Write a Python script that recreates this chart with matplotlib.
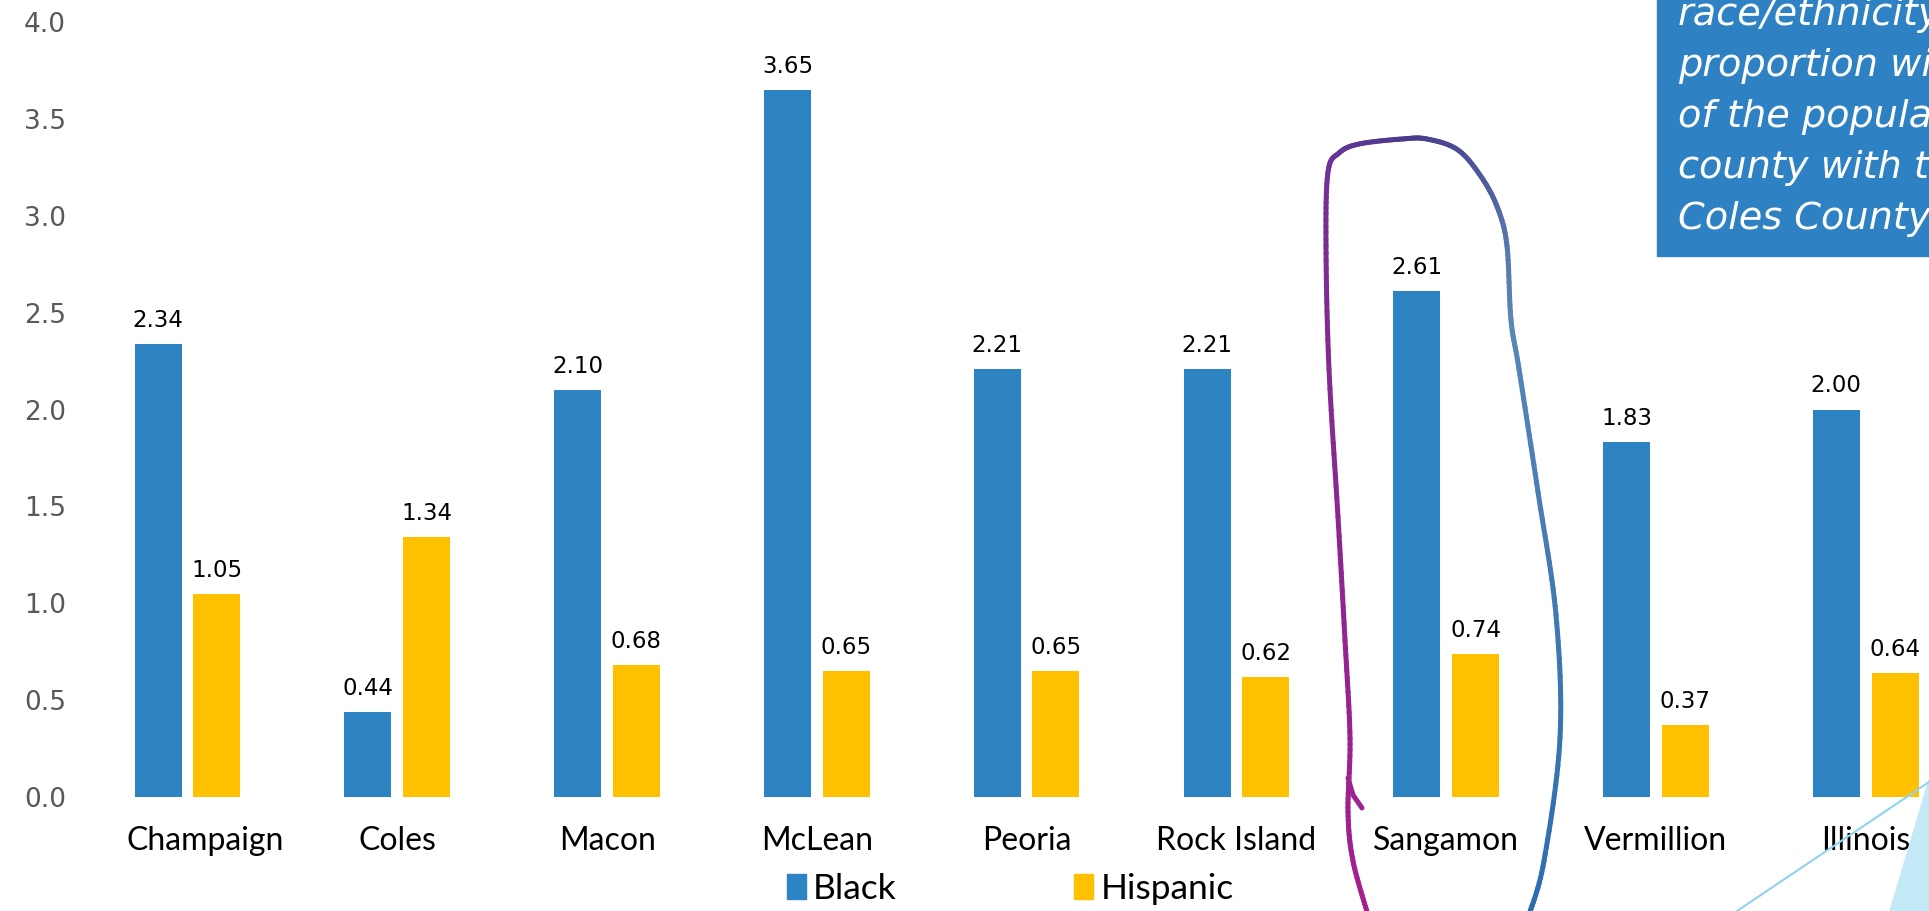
import numpy as np
import matplotlib.pyplot as plt
from matplotlib.collections import LineCollection
from matplotlib.colors import LinearSegmentedColormap
from matplotlib.patches import Patch, Polygon, Rectangle
from matplotlib.transforms import ScaledTranslation

plt.rcParams['font.family'] = ['Lato', 'DejaVu Sans']

counties = ["Champaign", "Coles", "Macon", "McLean", "Peoria",
            "Rock Island", "Sangamon", "Vermillion", "Illinois"]
black = [2.34, 0.44, 2.10, 3.65, 2.21, 2.21, 2.61, 1.83, 2.00]
hispanic = [1.05, 1.34, 0.68, 0.65, 0.65, 0.62, 0.74, 0.37, 0.64]
y_ticks = [0.0, 0.5, 1.0, 1.5, 2.0, 2.5, 3.0, 3.5, 4.0]

note_lines = ["race/ethnicity", "proportion with", "of the population",
              "county with the", "Coles County"]

BLUE = "#2E83C3"
GOLD = "#FFC000"

W, H = 1929, 911
fig = plt.figure(figsize=(W / 100, H / 100), dpi=100)
fig.patch.set_facecolor("white")


def px(x, y):
    # pixel position (origin top-left) -> figure fraction
    return x / W, 1 - y / H


ax = fig.add_axes([82.7 / W, 1 - 797 / H, 1 - 82.7 / W, (797 - 22) / H])
ax.patch.set_alpha(0)

x = np.arange(len(counties))
bw, off = 0.224, 0.14
ax.bar(x - off, black, bw, color=BLUE, label="Black", zorder=2)
ax.bar(x + off, hispanic, bw, color=GOLD, label="Hispanic", zorder=2)

for xs, vals in ((x - off, black), (x + off, hispanic)):
    for xi, v in zip(xs, vals):
        ax.annotate(f"{v:.2f}", (xi, v), xytext=(0, 17), textcoords="offset pixels",
                    ha="center", va="baseline", fontsize=16.5, color="black",
                    family="DejaVu Sans")

ax.set_xlim(-0.5, 8.302)
ax.set_ylim(0, 4)
ax.set_xticks(x, counties)
ax.set_yticks(y_ticks, [f"{t:.1f}" for t in y_ticks])
ax.tick_params(axis="x", length=0, pad=21, labelsize=23, labelcolor="black")
ax.tick_params(axis="y", length=0, pad=12, labelsize=19, labelcolor="#595959")
for lab in ax.get_yticklabels():
    lab.set_family("DejaVu Sans")
# first county label sits a bit right of its bars
first = ax.get_xticklabels()[0]
first.set_transform(first.get_transform() + ScaledTranslation(18 / 100, 0, fig.dpi_scale_trans))
for s in ax.spines.values():
    s.set_visible(False)

handles = [Patch(color=BLUE, label="Black"), Patch(color=GOLD, label="Hispanic")]
fig.legend(handles=handles, loc="center", bbox_to_anchor=(1010 / W, 1 - 889 / H),
           ncol=2, frameon=False, fontsize=25.5, handlelength=0.55, handleheight=0.7,
           handletextpad=0.2, columnspacing=5.0, borderpad=0)

# note box in the top right corner
fig.add_artist(Rectangle(px(1657, 256), 400 / W, 256 / H, transform=fig.transFigure,
                         color="#2E81C2", zorder=3))
for line, base in zip(note_lines, [25, 76, 127, 178, 229]):
    fig.text(*px(1678, base), line, color="white", fontsize=27.5, style="italic",
             family="DejaVu Sans", va="baseline", ha="left", zorder=4)

# decorative shapes bottom right
fig.add_artist(Polygon([px(1890, 911), px(1929, 780), px(1929, 911)], closed=True,
                       transform=fig.transFigure, color="#C4E9F7", zorder=1))
fig.add_artist(plt.Line2D([1737 / W, 1929 / W], [1 - 911 / H, 1 - 782 / H],
                          transform=fig.transFigure, color="#8FD3F0", lw=1.5, zorder=1))

# hand-drawn loop around Sangamon, smoothed with a Catmull-Rom pass
loop = np.array([(1368, 915), (1353, 861), (1348, 812), (1350, 738), (1345, 640),
                 (1338, 517), (1329, 369), (1326, 246), (1328, 172), (1339, 153),
                 (1359, 144), (1402, 139), (1427, 139), (1458, 150), (1482, 178),
                 (1498, 209), (1507, 246), (1511, 320), (1519, 369), (1538, 492),
                 (1556, 615), (1560, 738), (1544, 861), (1529, 915)], dtype=float)
ctrl = np.vstack([loop[0], loop, loop[-1]])
curve = []
for i in range(1, len(ctrl) - 2):
    p0, p1, p2, p3 = ctrl[i - 1], ctrl[i], ctrl[i + 1], ctrl[i + 2]
    for t in np.linspace(0, 1, 14, endpoint=False):
        curve.append(0.5 * (2 * p1 + (-p0 + p2) * t + (2 * p0 - 5 * p1 + 4 * p2 - p3) * t ** 2
                            + (-p0 + 3 * p1 - 3 * p2 + p3) * t ** 3))
curve.append(loop[-1])
pts = np.array([px(cx, cy) for cx, cy in curve])
segs = np.stack([pts[:-1], pts[1:]], axis=1)
cmap = LinearSegmentedColormap.from_list(
    "loop", ["#A3208F", "#9A2290", "#86298F", "#6A3499", "#4A3A8C", "#4F5E9C",
             "#5C88B8", "#3F78B3", "#2D6BAF"])
lc = LineCollection(segs, cmap=cmap, linewidths=3.6, capstyle="round",
                    joinstyle="round", transform=fig.transFigure, zorder=5)
lc.set_array(np.linspace(0, 1, len(segs)))
fig.add_artist(lc)
hook = [px(1348, 778), px(1353, 795), px(1362, 808)]
fig.add_artist(plt.Line2D([p[0] for p in hook], [p[1] for p in hook], color="#9C2391",
                          lw=3.6, solid_capstyle="round", transform=fig.transFigure, zorder=5))

fig.savefig("out.png", dpi=100)
